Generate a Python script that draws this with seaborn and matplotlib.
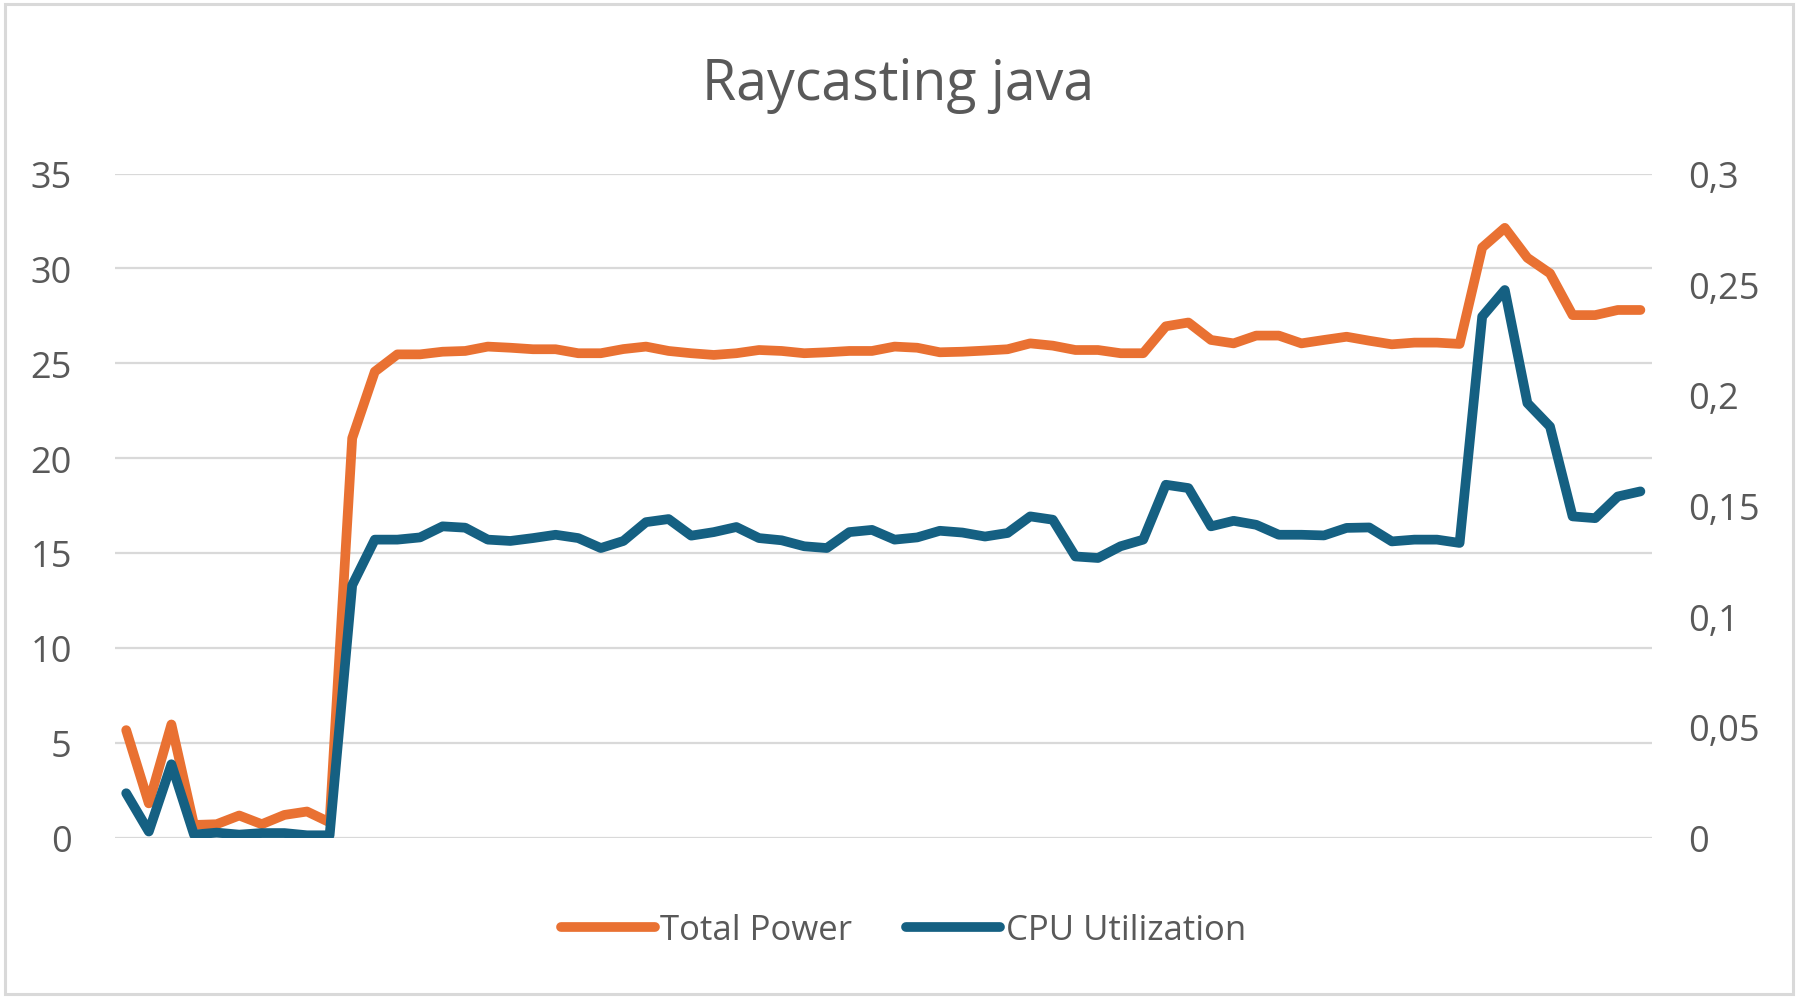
import numpy as np
import pandas as pd
import matplotlib
matplotlib.use("Agg")
import matplotlib.pyplot as plt
import seaborn as sns
from matplotlib.patches import Rectangle
from matplotlib.ticker import FixedLocator, FuncFormatter

# ---- data ----
total_power = [
    5.66, 1.80, 5.96, 0.66, 0.70, 1.16, 0.70, 1.19, 1.37, 0.80,
    21.05, 24.56, 25.47, 25.47, 25.61, 25.65, 25.88, 25.82, 25.74, 25.74,
    25.53, 25.53, 25.75, 25.88, 25.65, 25.53, 25.44, 25.53, 25.70, 25.65,
    25.53, 25.58, 25.65, 25.65, 25.88, 25.82, 25.58, 25.61, 25.67, 25.74,
    26.05, 25.93, 25.70, 25.70, 25.53, 25.53, 26.95, 27.15, 26.23, 26.05,
    26.46, 26.46, 26.05, 26.23, 26.40, 26.19, 26.00, 26.09, 26.09, 26.02,
    31.10, 32.14, 30.56, 29.74, 27.54, 27.54, 27.81, 27.81,
]
cpu_util = [
    0.0200, 0.0027, 0.0331, 0.0013, 0.0022, 0.0013, 0.0020, 0.0020, 0.0010, 0.0010,
    0.1140, 0.1346, 0.1346, 0.1356, 0.1406, 0.1400, 0.1346, 0.1340, 0.1353, 0.1368,
    0.1353, 0.1308, 0.1340, 0.1425, 0.1439, 0.1364, 0.1380, 0.1403, 0.1353, 0.1343,
    0.1316, 0.1308, 0.1380, 0.1390, 0.1346, 0.1356, 0.1386, 0.1378, 0.1360, 0.1376,
    0.1451, 0.1436, 0.1270, 0.1263, 0.1316, 0.1346, 0.1594, 0.1579, 0.1406, 0.1431,
    0.1413, 0.1368, 0.1368, 0.1365, 0.1399, 0.1401, 0.1338, 0.1346, 0.1346, 0.1331,
    0.2354, 0.2474, 0.1963, 0.1857, 0.1451, 0.1443, 0.1541, 0.1564,
]
left_ticks = [0, 5, 10, 15, 20, 25, 30, 35]
right_ticks = [0, 0.05, 0.1, 0.15, 0.2, 0.25, 0.3]
right_labels = ["0", "0,05", "0,1", "0,15", "0,2", "0,25", "0,3"]
title = "Raycasting java"
series_names = ["Total Power", "CPU Utilization"]

ORANGE = "#E97132"
BLUE = "#156082"
TEXT = "#595959"
GRID = "#D9D9D9"

sns.set_theme(style="white")
plt.rcParams["font.family"] = ["Open Sans", "DejaVu Sans"]

df = pd.DataFrame({
    "idx": np.arange(len(total_power)),
    "power": total_power,
    "cpu": cpu_util,
})

W, H = 1801, 1003
fig = plt.figure(figsize=(W / 100, H / 100), dpi=100)
left, right = 114.9 / W, 1651.7 / W
bottom, top = 1 - 838.5 / H, 1 - 174.6 / H
ax = fig.add_axes([left, bottom, right - left, top - bottom])
ax2 = ax.twinx()

lw = 7
sns.lineplot(data=df, x="idx", y="power", ax=ax, color=ORANGE, linewidth=lw,
             solid_capstyle="round", solid_joinstyle="round", label=series_names[0], legend=False)
sns.lineplot(data=df, x="idx", y="cpu", ax=ax2, color=BLUE, linewidth=lw,
             solid_capstyle="round", solid_joinstyle="round", label=series_names[1], legend=False)

n = len(total_power)
ax.set_xlim(-0.5, n - 0.5)
ax.set_ylim(0, 35)
ax2.set_ylim(0, 0.3)

ax.yaxis.set_major_locator(FixedLocator(left_ticks))
ax2.yaxis.set_major_locator(FixedLocator(right_ticks))
ax2.yaxis.set_major_formatter(FuncFormatter(lambda v, p: right_labels[right_ticks.index(round(v, 2))] if round(v, 2) in right_ticks else ""))

ax.set_xticks([])
ax.set_xlabel("")
ax.set_ylabel("")
ax2.set_ylabel("")

ax.grid(axis="y", color=GRID, linewidth=1.6)
ax.set_axisbelow(True)
ax2.grid(False)
for a in (ax, ax2):
    for s in a.spines.values():
        s.set_visible(False)
ax.tick_params(axis="y", length=0, pad=31, labelsize=26, labelcolor=TEXT)
ax2.tick_params(axis="y", length=0, pad=26, labelsize=26, labelcolor=TEXT)
ax2.set_zorder(ax.get_zorder() + 1)
ax.patch.set_visible(False)

fig.text(0.4988, 1 - 100 / H, title, ha="center", va="baseline",
         fontsize=40, color=TEXT)

h1, l1 = ax.get_legend_handles_labels()
h2, l2 = ax2.get_legend_handles_labels()
leg = fig.legend(h1 + h2, l1 + l2, loc="center", bbox_to_anchor=(903.5 / W, 1 - 931 / H),
                 ncol=2, frameon=False, fontsize=25, handlelength=2.7,
                 handletextpad=0.16, columnspacing=1.55)
for t in leg.get_texts():
    t.set_color(TEXT)
for lh in leg.get_lines():
    lh.set_linewidth(lw)
    lh.set_solid_capstyle("round")

fig.patches.append(Rectangle((5 / W, 8 / H), 1788 / W, 990 / H, transform=fig.transFigure,
                             fill=False, edgecolor=GRID, linewidth=2.2))

fig.savefig("out.png", dpi=100)
